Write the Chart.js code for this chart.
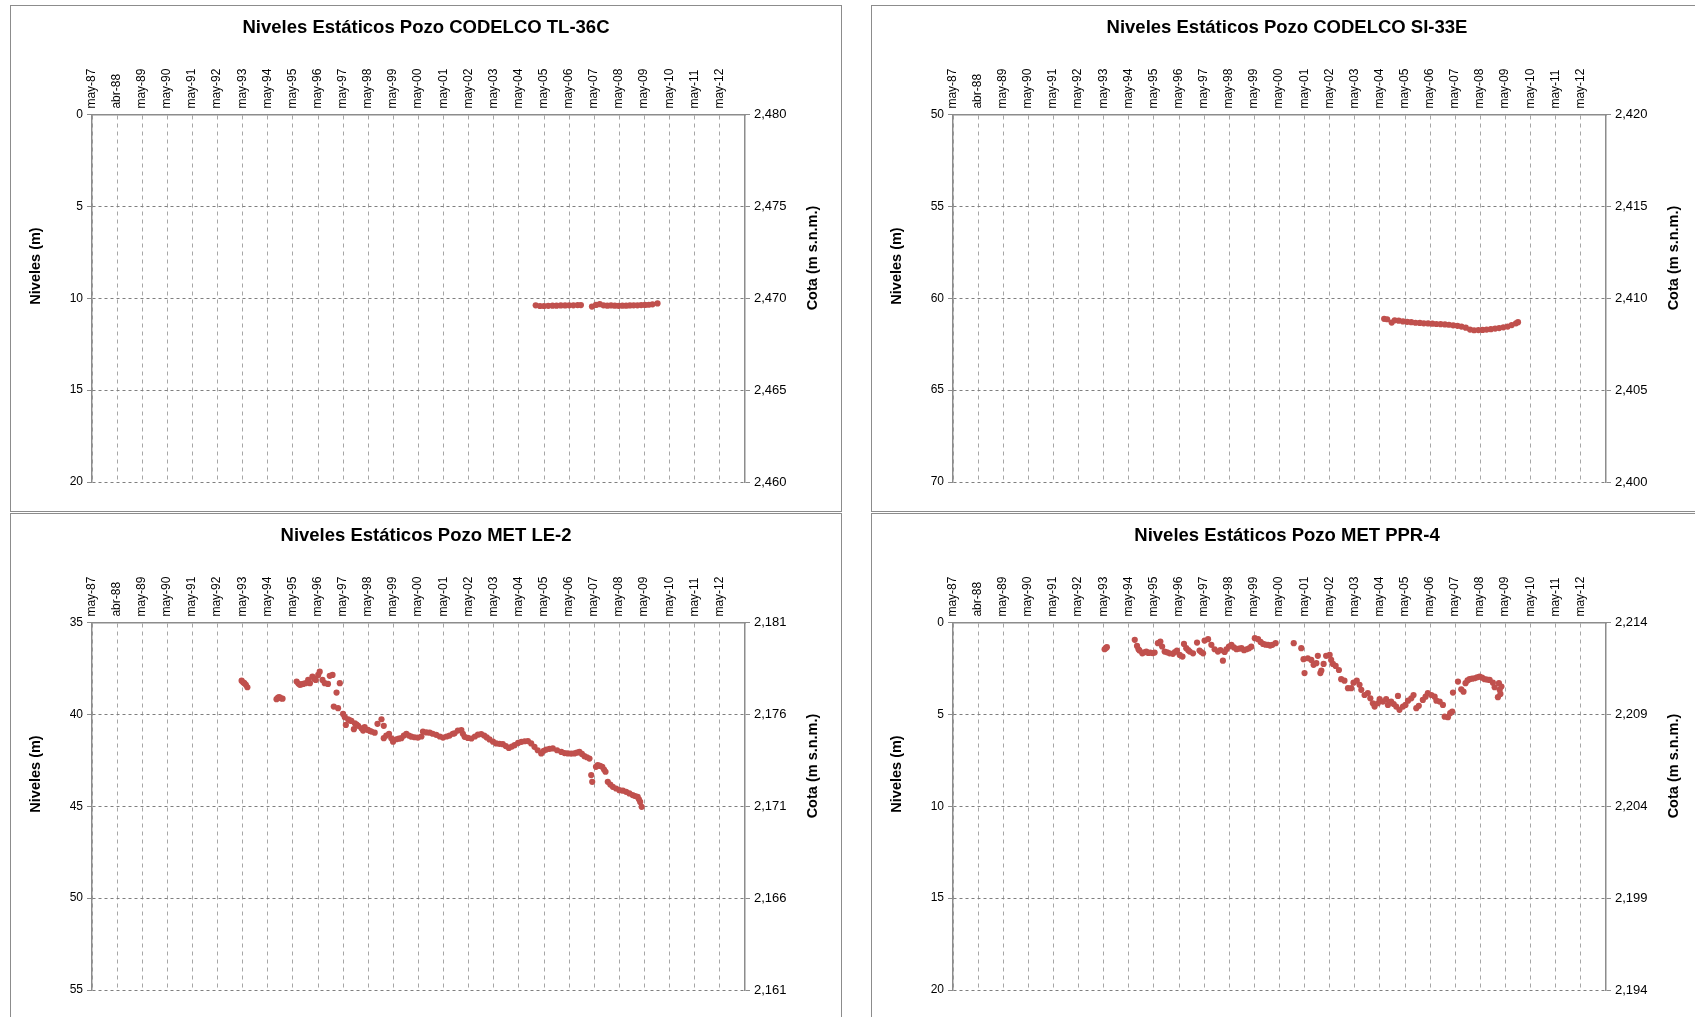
<!DOCTYPE html>
<html>
<head>
<meta charset="utf-8">
<script src="https://cdn.jsdelivr.net/npm/chart.js@4.4.0/dist/chart.umd.min.js"></script>
<style>
  html, body { margin: 0; padding: 0; background: #fff; }
  body { width: 1695px; height: 1017px; overflow: hidden; position: relative; }
  .panel { position: absolute; width: 830px; height: 505px; border: 1px solid #8c8c8c; background: #fff; }
  .panel canvas { display: block; }
</style>
</head>
<body>
<div class="panel" style="left:10px; top:5px;"><canvas id="grafTL36C" width="830" height="505"></canvas></div>
<div class="panel" style="left:871px; top:5px;"><canvas id="grafSI33E" width="830" height="505"></canvas></div>
<div class="panel" style="left:10px; top:513px;"><canvas id="grafLE2" width="830" height="505"></canvas></div>
<div class="panel" style="left:871px; top:513px;"><canvas id="grafPPR4" width="830" height="505"></canvas></div>

<script>
// ====== Datos ======
// Fechas en años decimales (may-87 = 1987 + 4/12)
const etiquetasX = ['may-87', 'abr-88', 'may-89', 'may-90', 'may-91', 'may-92', 'may-93', 'may-94', 'may-95',
    'may-96', 'may-97', 'may-98', 'may-99', 'may-00', 'may-01', 'may-02', 'may-03', 'may-04', 'may-05',
    'may-06', 'may-07', 'may-08', 'may-09', 'may-10', 'may-11', 'may-12'];
const X_MIN = 1987 + 4 / 12;
const X_MAX = 2013 + 4 / 12;

// Pozo CODELCO TL-36C
const tl36cFecha = [2005.00, 2005.17, 2005.33, 2005.50, 2005.67, 2005.83, 2006.00, 2006.17, 2006.33, 2006.50, 2006.67, 2006.80,
    2007.24, 2007.40, 2007.55, 2007.70, 2007.85, 2008.00, 2008.15, 2008.30, 2008.45, 2008.60, 2008.75, 2008.90,
    2009.05, 2009.20, 2009.35, 2009.50, 2009.65, 2009.85];
const tl36cNivel = [10.38, 10.42, 10.42, 10.41, 10.40, 10.40, 10.39, 10.39, 10.38, 10.38, 10.37, 10.37,
    10.45, 10.36, 10.32, 10.38, 10.40, 10.39, 10.40, 10.41, 10.40, 10.40, 10.39, 10.38,
    10.38, 10.37, 10.36, 10.35, 10.33, 10.28];

// Pozo CODELCO SI-33E
const si33eFecha = [2004.50, 2004.62, 2004.80, 2004.92, 2005.08, 2005.25, 2005.42, 2005.58, 2005.75, 2005.92,
    2006.08, 2006.25, 2006.42, 2006.58, 2006.75, 2006.92, 2007.08, 2007.25, 2007.42, 2007.58, 2007.75, 2007.92,
    2008.08, 2008.25, 2008.42, 2008.58, 2008.75, 2008.92, 2009.08, 2009.25, 2009.42, 2009.58, 2009.75, 2009.83];
const si33eNivel = [61.12, 61.14, 61.32, 61.20, 61.22, 61.26, 61.28, 61.30, 61.33, 61.34,
    61.36, 61.37, 61.38, 61.40, 61.41, 61.42, 61.44, 61.47, 61.50, 61.54, 61.60, 61.70,
    61.74, 61.73, 61.72, 61.70, 61.68, 61.65, 61.62, 61.58, 61.54, 61.46, 61.36, 61.30];

// Pozo MET LE-2
const le2Fecha = [1993.29, 1993.35, 1993.40, 1993.46, 1993.52, 1994.68, 1994.74, 1994.79, 1994.86, 1994.92,
    1995.48, 1995.55, 1995.61, 1995.68, 1995.74, 1995.84, 1995.94, 1996.01, 1996.11, 1996.18, 1996.24, 1996.34,
    1996.40, 1996.51, 1996.60, 1996.73, 1996.80, 1996.91, 1996.96, 1997.07, 1997.13, 1997.20, 1997.33, 1997.40,
    1997.44, 1997.53, 1997.60, 1997.66, 1997.76, 1997.80, 1997.87, 1997.93, 1998.06, 1998.13, 1998.19, 1998.32,
    1998.40, 1998.46, 1998.59, 1998.70, 1998.86, 1998.95, 1998.95, 1999.05, 1999.16, 1999.25, 1999.32, 1999.45,
    1999.55, 1999.65, 1999.75, 1999.85, 1999.95, 2000.05, 2000.18, 2000.31, 2000.45, 2000.51, 2000.65, 2000.78,
    2000.90, 2001.04, 2001.18, 2001.31, 2001.45, 2001.57, 2001.70, 2001.77, 2001.90, 2002.04, 2002.10, 2002.17,
    2002.30, 2002.44, 2002.58, 2002.70, 2002.83, 2002.95, 2003.05, 2003.16, 2003.30, 2003.43, 2003.56, 2003.69,
    2003.81, 2003.93, 2004.05, 2004.16, 2004.30, 2004.43, 2004.56, 2004.69, 2004.82, 2004.95, 2005.08, 2005.22,
    2005.32, 2005.42, 2005.55, 2005.68, 2005.85, 2006.02, 2006.15, 2006.28, 2006.41, 2006.54, 2006.64, 2006.74,
    2006.84, 2006.94, 2007.04, 2007.14, 2007.21, 2007.25, 2007.40, 2007.47, 2007.56, 2007.65, 2007.72, 2007.78,
    2007.87, 2007.97, 2008.07, 2008.20, 2008.33, 2008.47, 2008.60, 2008.73, 2008.86, 2008.96, 2009.06, 2009.11,
    2009.16, 2009.22];
const le2Nivel = [38.16, 38.25, 38.30, 38.39, 38.52, 39.17, 39.08, 39.06, 39.12, 39.14,
    38.21, 38.32, 38.39, 38.36, 38.34, 38.30, 38.12, 38.30, 37.94, 38.05, 38.12, 37.85,
    37.67, 38.12, 38.30, 38.34, 37.90, 37.85, 39.57, 38.81, 39.66, 38.30, 39.97, 40.15,
    40.57, 40.26, 40.32, 40.35, 40.80, 40.48, 40.55, 40.62, 40.75, 40.88, 40.69, 40.84,
    40.90, 40.93, 40.99, 40.51, 40.26, 40.62, 41.29, 41.15, 41.06, 41.30, 41.48, 41.35,
    41.32, 41.29, 41.15, 41.06, 41.15, 41.21, 41.24, 41.26, 41.20, 40.93, 40.98, 40.99,
    41.05, 41.11, 41.20, 41.26, 41.20, 41.15, 41.05, 41.03, 40.88, 40.85, 41.05, 41.22,
    41.28, 41.31, 41.20, 41.10, 41.07, 41.15, 41.25, 41.36, 41.48, 41.58, 41.60, 41.62,
    41.72, 41.82, 41.75, 41.67, 41.55, 41.49, 41.46, 41.45, 41.58, 41.76, 41.95, 42.12,
    41.98, 41.91, 41.87, 41.85, 41.95, 42.04, 42.10, 42.12, 42.13, 42.12, 42.08, 42.04,
    42.15, 42.27, 42.33, 42.40, 43.30, 43.67, 42.85, 42.76, 42.80, 42.85, 43.00, 43.12,
    43.67, 43.82, 43.94, 44.03, 44.12, 44.15, 44.21, 44.30, 44.39, 44.44, 44.49, 44.62,
    44.76, 45.03];

// Pozo MET PPR-4
const ppr4Fecha = [1993.37, 1993.42, 1993.46, 1994.57, 1994.66, 1994.72, 1994.76, 1994.87, 1994.95, 1995.03,
    1995.11, 1995.19, 1995.28, 1995.36, 1995.49, 1995.59, 1995.66, 1995.76, 1995.86, 1995.96, 1996.09, 1996.17,
    1996.25, 1996.36, 1996.47, 1996.53, 1996.62, 1996.70, 1996.76, 1996.89, 1997.05, 1997.15, 1997.22, 1997.29,
    1997.35, 1997.49, 1997.62, 1997.75, 1997.88, 1997.98, 1998.08, 1998.15, 1998.22, 1998.32, 1998.42, 1998.52,
    1998.62, 1998.72, 1998.82, 1998.92, 1999.02, 1999.12, 1999.21, 1999.35, 1999.48, 1999.58, 1999.68, 1999.78,
    1999.88, 1999.96, 2000.05, 2000.18, 2000.90, 2001.20, 2001.29, 2001.33, 2001.46, 2001.60, 2001.69, 2001.80,
    2001.86, 2001.96, 2002.00, 2002.09, 2002.19, 2002.33, 2002.39, 2002.46, 2002.57, 2002.70, 2002.79, 2002.92,
    2003.06, 2003.19, 2003.28, 2003.41, 2003.52, 2003.59, 2003.72, 2003.85, 2003.95, 2004.05, 2004.12, 2004.25,
    2004.32, 2004.45, 2004.58, 2004.65, 2004.78, 2004.88, 2004.98, 2005.05, 2005.11, 2005.25, 2005.35, 2005.45,
    2005.58, 2005.67, 2005.78, 2005.88, 2006.04, 2006.15, 2006.24, 2006.38, 2006.51, 2006.58, 2006.71, 2006.84,
    2006.91, 2007.04, 2007.13, 2007.21, 2007.24, 2007.44, 2007.57, 2007.66, 2007.74, 2007.82, 2007.90, 2008.00,
    2008.10, 2008.20, 2008.30, 2008.40, 2008.50, 2008.60, 2008.70, 2008.83, 2008.90, 2009.03, 2009.07, 2009.10,
    2009.13, 2009.17];
const ppr4Nivel = [1.45, 1.38, 1.34, 0.94, 1.27, 1.45, 1.52, 1.67, 1.62, 1.58,
    1.65, 1.63, 1.66, 1.63, 1.12, 1.03, 1.30, 1.58, 1.62, 1.67, 1.70, 1.60,
    1.52, 1.76, 1.85, 1.16, 1.39, 1.50, 1.58, 1.67, 1.09, 1.52, 1.60, 1.67,
    0.98, 0.90, 1.21, 1.45, 1.58, 1.50, 2.07, 1.60, 1.45, 1.30, 1.21, 1.35,
    1.45, 1.42, 1.39, 1.50, 1.45, 1.40, 1.31, 0.85, 0.90, 1.05, 1.16, 1.20,
    1.21, 1.25, 1.21, 1.12, 1.12, 1.39, 1.99, 2.75, 1.94, 2.03, 2.30, 2.21,
    1.81, 2.75, 2.61, 2.25, 1.81, 1.76, 2.03, 2.25, 2.36, 2.58, 3.08, 3.16,
    3.57, 3.57, 3.27, 3.16, 3.39, 3.66, 3.94, 3.84, 4.12, 4.39, 4.57, 4.39,
    4.17, 4.30, 4.17, 4.48, 4.30, 4.43, 4.57, 3.99, 4.75, 4.57, 4.48, 4.25,
    4.12, 3.94, 4.66, 4.53, 4.21, 4.03, 3.84, 3.94, 4.03, 4.25, 4.30, 4.48,
    5.12, 5.15, 4.93, 4.84, 3.81, 3.21, 3.63, 3.76, 3.30, 3.15, 3.08, 3.05,
    3.03, 2.98, 2.94, 3.00, 3.08, 3.10, 3.12, 3.27, 3.52, 4.06, 3.30, 3.66,
    3.88, 3.48];

// ====== Estilo ======
const FUENTE = '"Liberation Sans", Arial, sans-serif';
const COLOR_PUNTO = '#c0504d';

// Títulos de ejes verticales (rotados, leídos de abajo hacia arriba)
const titulosEjes = {
    id: 'titulosEjes',
    afterDraw(chart, args, opts) {
        const ctx = chart.ctx;
        ctx.save();
        ctx.font = 'bold 14.5px ' + FUENTE;
        ctx.fillStyle = '#000';
        ctx.textAlign = 'center';
        ctx.textBaseline = 'middle';
        [[opts.izq, opts.xIzq, opts.yIzq], [opts.der, opts.xDer, opts.yDer]].forEach(([texto, x, y]) => {
            ctx.save();
            ctx.translate(x, y);
            ctx.rotate(-Math.PI / 2);
            ctx.fillText(texto, 0, 0);
            ctx.restore();
        });
        ctx.restore();
    }
};

function crearGrafico(id, titulo, fechas, niveles, nivelMin, nivelMax, cotaMax) {
    const puntos = fechas.map((f, i) => ({ x: f, y: niveles[i] }));

    return new Chart(document.getElementById(id), {
        type: 'scatter',
        data: {
            datasets: [{
                data: puntos,
                yAxisID: 'y',
                backgroundColor: COLOR_PUNTO,
                borderColor: COLOR_PUNTO,
                borderWidth: 0,
                pointRadius: 3.1,
                pointHoverRadius: 3.1
            }]
        },
        options: {
            responsive: false,
            animation: false,
            devicePixelRatio: 1,
            layout: { padding: { left: 0, right: 0, top: 0, bottom: 29 } },
            plugins: {
                legend: { display: false },
                tooltip: { enabled: false },
                title: {
                    display: true,
                    text: titulo,
                    color: '#000',
                    font: { family: FUENTE, size: 18.5, weight: 'bold' },
                    padding: { top: 11, bottom: 0 }
                },
                titulosEjes: {
                    izq: 'Niveles (m)', xIzq: 25, yIzq: 260,
                    der: 'Cota (m s.n.m.)', xDer: 802, yDer: 252
                }
            },
            scales: {
                x: {
                    type: 'linear',
                    position: 'top',
                    min: X_MIN,
                    max: X_MAX,
                    afterBuildTicks: s => { s.ticks = etiquetasX.map((_, i) => ({ value: X_MIN + i })); },
                    afterFit: s => { s.height = 75.4; },
                    ticks: {
                        autoSkip: false,
                        minRotation: 90,
                        maxRotation: 90,
                        padding: 6,
                        labelOffset: 14,
                        color: '#000',
                        font: { family: FUENTE, size: 12 },
                        callback: (v, i) => etiquetasX[i]
                    },
                    grid: { color: '#a6a6a6', lineWidth: 1, drawTicks: false },
                    border: { display: true, color: '#8c8c8c', width: 1.5, dash: [4, 4] }
                },
                y: {
                    type: 'linear',
                    position: 'left',
                    reverse: true,
                    min: nivelMin,
                    max: nivelMax,
                    afterFit: s => { s.width = 81; },
                    ticks: {
                        stepSize: 5,
                        padding: 4,
                        color: '#000',
                        font: { family: FUENTE, size: 12 }
                    },
                    grid: { color: '#7f7f7f', lineWidth: 1, tickLength: 5, tickColor: '#8c8c8c', tickBorderDash: [] },
                    border: { display: true, color: '#8c8c8c', width: 1.5, dash: [3, 3] }
                },
                y2: {
                    type: 'linear',
                    position: 'right',
                    min: cotaMax - (nivelMax - nivelMin),
                    max: cotaMax,
                    afterFit: s => { s.width = 96; },
                    ticks: {
                        stepSize: 5,
                        padding: 4,
                        color: '#000',
                        font: { family: FUENTE, size: 13 },
                        callback: v => v.toLocaleString('en-US')
                    },
                    grid: { drawOnChartArea: false, tickLength: 5, tickColor: '#8c8c8c' },
                    border: { display: true, color: '#8c8c8c', width: 1.5 }
                }
            }
        },
        plugins: [titulosEjes]
    });
}

crearGrafico('grafTL36C', 'Niveles Estáticos Pozo CODELCO TL-36C', tl36cFecha, tl36cNivel, 0, 20, 2480);
crearGrafico('grafSI33E', 'Niveles Estáticos Pozo CODELCO SI-33E', si33eFecha, si33eNivel, 50, 70, 2420);
crearGrafico('grafLE2', 'Niveles Estáticos Pozo MET LE-2', le2Fecha, le2Nivel, 35, 55, 2181);
crearGrafico('grafPPR4', 'Niveles Estáticos Pozo MET PPR-4', ppr4Fecha, ppr4Nivel, 0, 20, 2214);
</script>
</body>
</html>
